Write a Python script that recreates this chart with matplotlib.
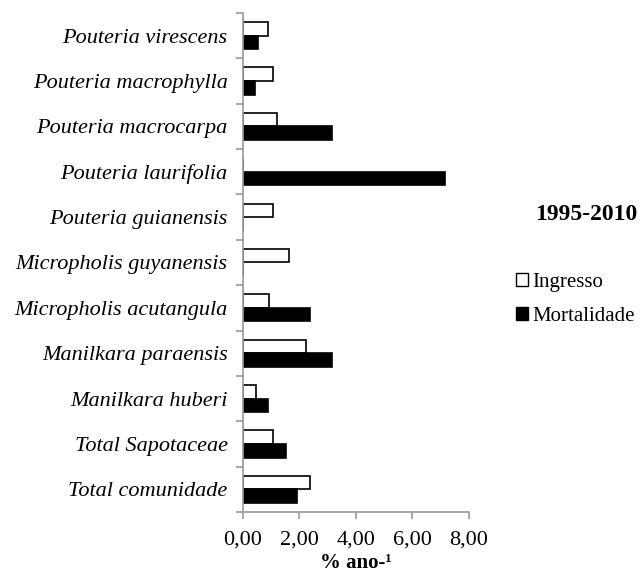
import numpy as np
import matplotlib.pyplot as plt
from matplotlib.patches import Patch

plt.rcParams['font.family'] = ['Liberation Serif', 'DejaVu Serif']

especies = ['Pouteria virescens', 'Pouteria macrophylla', 'Pouteria macrocarpa',
            'Pouteria laurifolia', 'Pouteria guianensis', 'Micropholis guyanensis',
            'Micropholis acutangula', 'Manilkara paraensis', 'Manilkara huberi',
            'Total Sapotaceae', 'Total comunidade']
ingresso = [0.87, 1.07, 1.20, 0.0, 1.07, 1.64, 0.91, 2.24, 0.45, 1.07, 2.39]
mortalidade = [0.53, 0.43, 3.17, 7.15, 0.0, 0.0, 2.39, 3.17, 0.87, 1.51, 1.90]
xticks = [0, 2, 4, 6, 8]
xticklabels = ['0,00', '2,00', '4,00', '6,00', '8,00']

fig = plt.figure(figsize=(6.42, 5.79), dpi=100)
ax = fig.add_axes([243 / 642, 1 - 512 / 579, (468.5 - 243) / 642, (512 - 13) / 579])

n = len(especies)
pos = np.arange(n)[::-1].astype(float)
h = 0.3
ax.barh(pos + h / 2, ingresso, height=h, color='white', edgecolor='black', linewidth=1.2)
ax.barh(pos - h / 2, mortalidade, height=h, color='black', edgecolor='black', linewidth=1.2)

ax.set_xlim(0, 8)
ax.set_ylim(-0.5, n - 0.5)
ax.set_xticks(xticks)
ax.set_xticklabels(xticklabels, fontsize=16)
ax.set_yticks(pos)
ax.set_yticklabels(especies, fontsize=16, style='italic')
ax.tick_params(axis='y', length=0, pad=11)
ax.set_yticks(np.arange(n + 1) - 0.5, minor=True)
ax.tick_params(axis='y', which='minor', length=5, color='#999999', width=1.2)
ax.tick_params(axis='x', length=5, color='#999999', width=1.2, pad=8)

for s in ['top', 'right']:
    ax.spines[s].set_visible(False)
for s in ['left', 'bottom']:
    ax.spines[s].set_color('#999999')
    ax.spines[s].set_linewidth(1.2)

ax.set_xlabel('% ano-¹', fontsize=15, fontweight='bold', labelpad=3)

fig.text(586 / 642, 1 - 215 / 579, '1995-2010', fontsize=17, fontweight='bold',
         ha='center', va='center')

handles = [Patch(facecolor='white', edgecolor='black', linewidth=1.0),
           Patch(facecolor='black', edgecolor='black', linewidth=1.0)]
fig.legend(handles, ['Ingresso', 'Mortalidade'], loc='upper left',
           bbox_to_anchor=(497 / 642, 1 - 254 / 579), frameon=False, fontsize=15,
           handlelength=0.6, handleheight=0.6, handletextpad=0.2, labelspacing=0.74)

fig.savefig('out.png', dpi=100, facecolor='white')
